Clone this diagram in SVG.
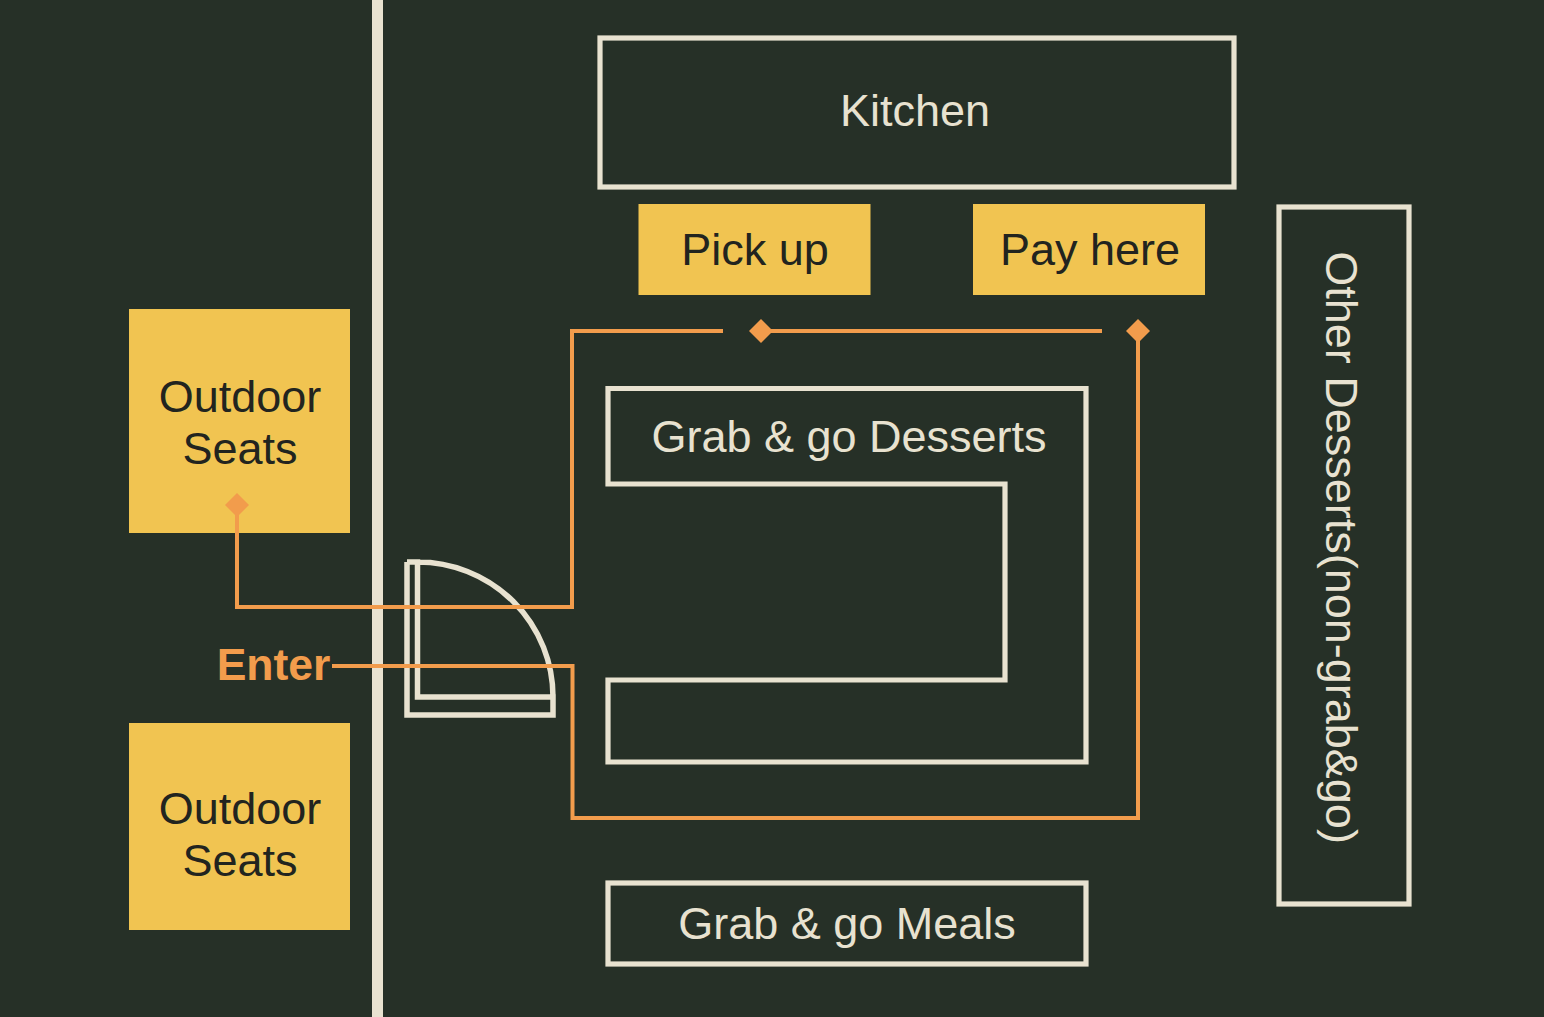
<svg xmlns="http://www.w3.org/2000/svg" width="1544" height="1017" viewBox="0 0 1544 1017">
<style>
.o{fill:none;stroke:#e8e2d0;stroke-width:5.2}
.y{fill:#f1c451}
.c{fill:none;stroke:#f29c4c;stroke-width:4}
.d{fill:#f29c4c}
text{font-family:"Liberation Sans",Arial,sans-serif;font-size:45px;text-anchor:middle}
.l{fill:#e8e2d0}
.k{fill:#22241f}
</style>
<rect width="1544" height="1017" fill="#263027"/>
<rect x="372" y="0" width="11" height="1017" fill="#e8e2d0"/>
<g id="kitchen"><rect class="o" x="600" y="38" width="634" height="149"/><text class="l" x="915" y="125.500">Kitchen</text></g>
<g id="pickup"><rect class="y" x="638.500" y="204" width="232" height="91"/><text class="k" x="755" y="264.500">Pick up</text></g>
<g id="payhere"><rect class="y" x="973" y="204" width="232" height="91"/><text class="k" x="1090" y="264.500">Pay here</text></g>
<g id="other"><rect class="o" x="1279" y="207" width="130" height="697"/><text class="l" transform="translate(1326 547.500) rotate(90)" x="0" y="0">Other Desserts(non-grab&amp;go)</text></g>
<g id="outdoor1"><rect class="y" x="129" y="309" width="221" height="224"/><text class="k" x="240" y="411.500">Outdoor</text><text class="k" x="240" y="463.500">Seats</text></g>
<g id="outdoor2"><rect class="y" x="129" y="723" width="221" height="207"/><text class="k" x="240" y="823.500">Outdoor</text><text class="k" x="240" y="875.500">Seats</text></g>
<g id="desserts"><path class="o" d="M608 388.500H1086V762H608V680H1005V484H608Z"/><text class="l" x="849" y="451.500">Grab &amp; go Desserts</text></g>
<g id="meals"><rect class="o" x="608" y="883" width="478" height="81"/><text class="l" x="847" y="938.500">Grab &amp; go Meals</text></g>
<g id="door"><path class="o" style="stroke-width:5.5" d="M407 562V715H553V697H417.500V562H407M417.500 562A135.500 135 0 0 1 553 697"/></g>
<g id="connectors">
<path class="c" d="M332 666H572.500V818H1138V340"/>
<path class="c" d="M1102 331H770"/>
<path class="c" d="M723 331H572V607H237V514"/>
<path class="d" d="M1138 319L1150 331L1138 343L1126 331Z"/>
<path class="d" d="M761 319L773 331L761 343L749 331Z"/>
<path class="d" d="M237 493L249 505L237 517L225 505Z"/>
</g>
<text x="273.500" y="679.500" fill="#f29c4c" font-weight="700" style="font-size:44.500px">Enter</text>
</svg>
